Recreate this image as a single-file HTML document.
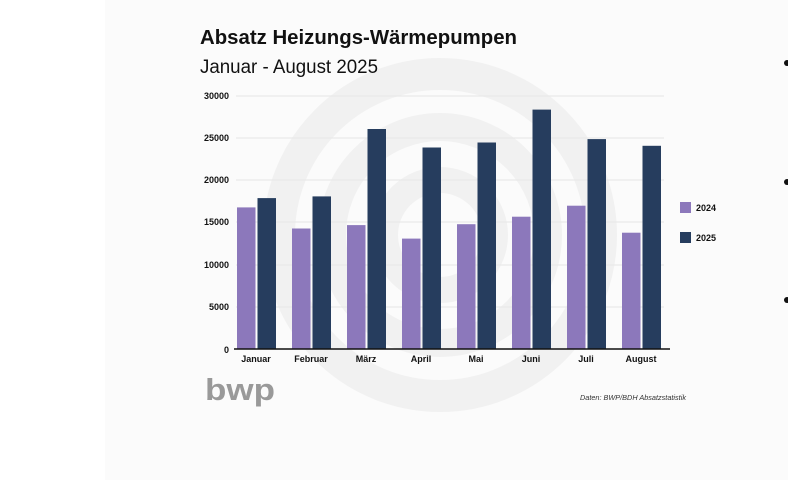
<!DOCTYPE html>
<html><head><meta charset="utf-8"><style>
html,body{margin:0;padding:0;background:#fff;}
svg{display:block;font-family:"Liberation Sans",sans-serif;}
</style></head><body>
<svg width="788" height="480" viewBox="0 0 788 480" xmlns="http://www.w3.org/2000/svg">
<rect x="0" y="0" width="788" height="480" fill="#fff"/>
<rect x="105" y="0" width="683" height="480" fill="#fbfbfb"/>
<g fill="none" stroke="#f1f1f1">
<circle cx="440" cy="235" r="161" stroke-width="32"/>
<circle cx="440" cy="235" r="108" stroke-width="28"/>
<circle cx="440" cy="235" r="55" stroke-width="26"/>
</g>
<text x="200" y="44" font-size="20.5" font-weight="bold" fill="#111" textLength="317" lengthAdjust="spacingAndGlyphs">Absatz Heizungs-Wärmepumpen</text>
<text x="200" y="73" font-size="19" fill="#111" textLength="178" lengthAdjust="spacingAndGlyphs">Januar - August 2025</text>
<g stroke="#e6e6e6" stroke-width="1">
<line x1="236" y1="96" x2="664" y2="96"/><line x1="236" y1="138" x2="664" y2="138"/>
<line x1="236" y1="180" x2="664" y2="180"/><line x1="236" y1="222" x2="664" y2="222"/>
<line x1="236" y1="265" x2="664" y2="265"/><line x1="236" y1="307" x2="664" y2="307"/>
</g>
<g font-size="9" font-weight="bold" fill="#111" text-anchor="end">
<text x="229" y="99">30000</text><text x="229" y="141">25000</text><text x="229" y="183">20000</text>
<text x="229" y="225">15000</text><text x="229" y="268">10000</text><text x="229" y="310">5000</text>
<text x="229" y="353">0</text>
</g>
<g>
<rect x="237" y="207.4" width="18.5" height="141.6" fill="#8c78bb"/><rect x="257.5" y="198.1" width="18.5" height="150.9" fill="#263d5e"/>
<rect x="292" y="228.5" width="18.5" height="120.5" fill="#8c78bb"/><rect x="312.5" y="196.4" width="18.5" height="152.6" fill="#263d5e"/>
<rect x="347" y="225.1" width="18.5" height="123.9" fill="#8c78bb"/><rect x="367.5" y="129" width="18.5" height="220" fill="#263d5e"/>
<rect x="402" y="238.6" width="18.5" height="110.4" fill="#8c78bb"/><rect x="422.5" y="147.5" width="18.5" height="201.5" fill="#263d5e"/>
<rect x="457" y="224.2" width="18.5" height="124.8" fill="#8c78bb"/><rect x="477.5" y="142.5" width="18.5" height="206.5" fill="#263d5e"/>
<rect x="512" y="216.7" width="18.5" height="132.3" fill="#8c78bb"/><rect x="532.5" y="109.6" width="18.5" height="239.4" fill="#263d5e"/>
<rect x="567" y="205.7" width="18.5" height="143.3" fill="#8c78bb"/><rect x="587.5" y="139.1" width="18.5" height="209.9" fill="#263d5e"/>
<rect x="622" y="232.7" width="18.5" height="116.3" fill="#8c78bb"/><rect x="642.5" y="145.8" width="18.5" height="203.2" fill="#263d5e"/>
</g>
<line x1="234" y1="349" x2="670" y2="349" stroke="#111" stroke-width="1.5"/>
<g font-size="9" font-weight="bold" fill="#111" text-anchor="middle">
<text x="256" y="362">Januar</text><text x="311" y="362">Februar</text><text x="366" y="362">März</text>
<text x="421" y="362">April</text><text x="476" y="362">Mai</text><text x="531" y="362">Juni</text>
<text x="586" y="362">Juli</text><text x="641" y="362">August</text>
</g>
<rect x="680" y="202" width="11" height="11" fill="#8c78bb"/>
<rect x="680" y="232" width="11" height="11" fill="#263d5e"/>
<g font-size="9" font-weight="bold" fill="#111">
<text x="696" y="211">2024</text><text x="696" y="241">2025</text>
</g>
<text x="205" y="400" font-size="31" font-weight="bold" fill="#999" textLength="70" lengthAdjust="spacingAndGlyphs">bwp</text>
<text x="580" y="400" font-size="7.5" font-style="italic" fill="#333" textLength="106" lengthAdjust="spacingAndGlyphs">Daten: BWP/BDH Absatzstatistik</text>
<g fill="#111"><circle cx="787" cy="63" r="3"/><circle cx="787" cy="182" r="3"/><circle cx="787" cy="300" r="3"/></g>
</svg>
</body></html>
